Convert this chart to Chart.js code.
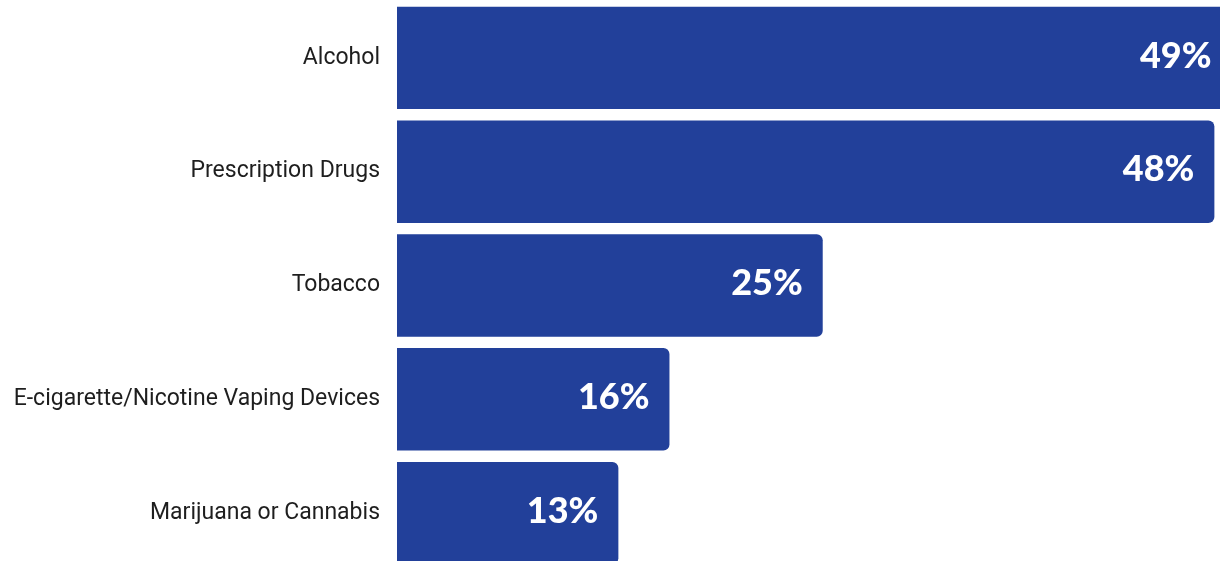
<!DOCTYPE html>
<html>
<head>
<meta charset="utf-8">
<script src="https://cdn.jsdelivr.net/npm/chart.js@4"></script>
<style>
  html, body { margin: 0; padding: 0; background: #fff; overflow: hidden; }
  #wrap { width: 1220px; height: 570px; position: relative; }
</style>
</head>
<body>
<div id="wrap"><canvas id="bars"></canvas></div>
<script>
const categories = [
    "Alcohol",
    "Prescription Drugs",
    "Tobacco",
    "E-cigarette/Nicotine Vaping Devices",
    "Marijuana or Cannabis"
];
const shares = [49, 48, 25, 16, 13];
const valueLabels = ["49%", "48%", "25%", "16%", "13%"];

const barColor = "#22409A";

// writes the percentage inside the end of each bar
const valueText = {
    id: "valueText",
    afterDatasetsDraw(chart) {
        const ctx = chart.ctx;
        const meta = chart.getDatasetMeta(0);
        ctx.save();
        ctx.fillStyle = "#ffffff";
        ctx.font = "900 36px Lato";
        ctx.textAlign = "right";
        ctx.textBaseline = "middle";
        meta.data.forEach((bar, i) => {
            ctx.fillText(valueLabels[i], bar.x - 20, bar.y - 2);
        });
        ctx.restore();
    }
};

const ctx = document.getElementById("bars");
new Chart(ctx, {
    type: "bar",
    data: {
        labels: categories,
        datasets: [{
            data: shares,
            backgroundColor: barColor,
            borderRadius: 6,
            barPercentage: 0.9,
            categoryPercentage: 1.0
        }]
    },
    options: {
        indexAxis: "y",
        responsive: true,
        maintainAspectRatio: false,
        animation: false,
        layout: { padding: { top: 1, right: 0, bottom: 0, left: 0 } },
        plugins: {
            legend: { display: false },
            tooltip: { enabled: false }
        },
        scales: {
            x: {
                display: false,
                min: 0,
                max: 48.33
            },
            y: {
                grid: { display: false, drawTicks: false },
                border: { display: false },
                ticks: {
                    padding: 17,
                    color: "#1e1e1e",
                    font: { family: "Roboto", size: 23 }
                },
                afterFit(scale) {
                    // fixed label column, no extra space above/below the bars
                    scale.width = 397;
                    scale.paddingTop = 0;
                    scale.paddingBottom = 0;
                }
            }
        }
    },
    plugins: [valueText]
});
</script>
</body>
</html>
